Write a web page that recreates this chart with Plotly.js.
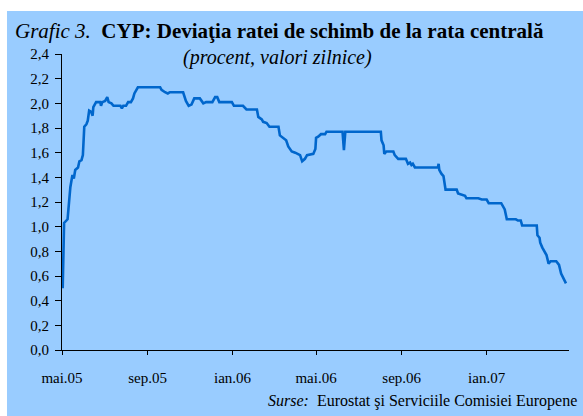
<!DOCTYPE html>
<html>
<head>
<meta charset="utf-8">
<script src="https://cdn.plot.ly/plotly-3.0.1.min.js"></script>
<style>html,body{margin:0;padding:0;background:#fff;}#chart{width:583px;height:416px;}</style>
</head>
<body>
<div id="chart"></div>
<script>
var dates = [
 '2005-05-02','2005-05-04','2005-05-09','2005-05-13','2005-05-16','2005-05-18','2005-05-20','2005-05-24','2005-05-26','2005-05-29',
 '2005-05-31','2005-06-01','2005-06-02','2005-06-05','2005-06-07','2005-06-09','2005-06-12','2005-06-14','2005-06-15','2005-06-19',
 '2005-06-25','2005-06-26','2005-06-28','2005-07-02','2005-07-05','2005-07-07','2005-07-11','2005-07-14','2005-07-24','2005-07-26',
 '2005-07-28','2005-08-01','2005-08-04','2005-08-08','2005-08-11','2005-08-13','2005-08-16','2005-08-18','2005-09-19','2005-09-21',
 '2005-09-26','2005-09-30','2005-10-03','2005-10-22','2005-10-26','2005-10-30','2005-11-03','2005-11-07','2005-11-15','2005-11-20',
 '2005-11-24','2005-12-03','2005-12-07','2005-12-10','2005-12-13','2005-12-31','2006-01-03','2006-01-16','2006-01-21','2006-02-05',
 '2006-02-07','2006-02-12','2006-02-14','2006-02-19','2006-02-23','2006-03-08','2006-03-10','2006-03-15','2006-03-19','2006-03-22',
 '2006-03-27','2006-04-01','2006-04-06','2006-04-08','2006-04-11','2006-04-15','2006-04-18','2006-04-27','2006-04-30','2006-05-01',
 '2006-05-04','2006-05-08','2006-05-14','2006-05-16','2006-06-08','2006-06-10','2006-06-12','2006-08-02','2006-08-03','2006-08-06',
 '2006-08-07','2006-08-10','2006-08-20','2006-08-22','2006-08-27','2006-09-07','2006-09-10','2006-09-13','2006-09-15','2006-09-17',
 '2006-09-20','2006-10-23','2006-10-24','2006-10-25','2006-10-28','2006-10-31','2006-11-03','2006-11-19','2006-11-21','2006-11-26',
 '2006-12-01','2006-12-03','2006-12-20','2006-12-25','2007-01-01','2007-01-04','2007-01-22','2007-01-27','2007-01-30','2007-02-12',
 '2007-02-15','2007-02-19','2007-02-21','2007-03-14','2007-03-15','2007-03-18','2007-03-19','2007-03-22','2007-03-25','2007-03-28',
 '2007-03-31','2007-04-03','2007-04-11','2007-04-15','2007-04-18','2007-04-21','2007-04-25'
];
var deviation = [
 0.50,1.03,1.06,1.32,1.42,1.39,1.46,1.48,1.53,1.54,
 1.58,1.74,1.81,1.83,1.86,1.94,1.93,1.90,1.97,2.01,
 2.01,1.98,2.01,2.02,2.05,2.01,2.00,1.98,1.98,1.96,
 1.98,1.98,2.01,2.01,2.04,2.08,2.11,2.13,2.13,2.11,
 2.09,2.08,2.09,2.09,2.02,1.98,1.99,2.04,2.04,2.00,
 2.01,2.01,2.05,2.05,2.01,2.01,1.98,1.98,1.95,1.95,
 1.89,1.87,1.85,1.84,1.81,1.81,1.74,1.72,1.70,1.65,
 1.61,1.60,1.59,1.58,1.53,1.55,1.58,1.59,1.63,1.72,
 1.73,1.75,1.75,1.77,1.77,1.62,1.77,1.77,1.70,1.66,
 1.59,1.61,1.61,1.58,1.55,1.55,1.51,1.52,1.50,1.51,
 1.48,1.48,1.51,1.46,1.43,1.41,1.30,1.30,1.27,1.26,
 1.25,1.23,1.23,1.22,1.22,1.19,1.19,1.14,1.06,1.06,
 1.05,1.05,1.01,1.01,0.93,0.91,0.87,0.83,0.80,0.77,
 0.70,0.72,0.72,0.69,0.62,0.58,0.54
];
var xTickVals = ['2005-05-01','2005-09-01','2006-01-01','2006-05-01','2006-09-01','2007-01-01'];
var xTickText = ['mai.05','sep.05','ian.06','mai.06','sep.06','ian.07'];
var yTickVals = [0,0.2,0.4,0.6,0.8,1.0,1.2,1.4,1.6,1.8,2.0,2.2,2.4];
var yTickText = ['0,0','0,2','0,4','0,6','0,8','1,0','1,2','1,4','1,6','1,8','2,0','2,2','2,4'];

var font = 'Liberation Serif, Times New Roman, serif';
var trace = {
  x: dates, y: deviation, type: 'scatter', mode: 'lines',
  line: {color: '#0066CC', width: 2.6, shape: 'linear'},
  hoverinfo: 'skip'
};
var layout = {
  width: 583, height: 416,
  margin: {l: 62, r: 14, t: 54, b: 66, pad: 0},
  paper_bgcolor: '#ffffff',
  plot_bgcolor: 'rgba(0,0,0,0)',
  showlegend: false,
  font: {family: font, size: 15, color: '#000'},
  xaxis: {
    type: 'date', range: ['2005-05-01', '2007-04-29 08:00'],
    tickmode: 'array', tickvals: xTickVals, ticktext: xTickText,
    ticks: 'outside', ticklen: 4, tickwidth: 1, tickcolor: '#000',
    showline: true, linecolor: '#000', linewidth: 1,
    showgrid: false, zeroline: false, ticklabelstandoff: 10,
    tickfont: {family: font, size: 15, color: '#000'}
  },
  yaxis: {
    range: [0, 2.4], tickmode: 'array', tickvals: yTickVals, ticktext: yTickText,
    ticks: 'outside', ticklen: 6, tickwidth: 1, tickcolor: '#000',
    showline: true, linecolor: '#000', linewidth: 1,
    showgrid: false, zeroline: false, ticklabelstandoff: 3,
    tickfont: {family: font, size: 15, color: '#000'}
  },
  shapes: [{
    type: 'rect', xref: 'paper', yref: 'paper', layer: 'below',
    x0: -0.1085, x1: 1.06, y0: -0.3, y1: 1.1453,
    fillcolor: '#99CCFF', line: {width: 0}
  }],
  annotations: [
    {xref: 'paper', yref: 'paper', x: -0.0966, y: 1.0777, xanchor: 'left', yanchor: 'middle', showarrow: false,
     text: '<i>Grafic 3.</i>  <b>CYP: Deviaţia ratei de schimb de la rata centrală</b>',
     font: {family: font, size: 21, color: '#000'}},
    {xref: 'paper', yref: 'paper', x: 0.426, y: 0.9865, xanchor: 'center', yanchor: 'middle', showarrow: false,
     text: '<i>(procent, valori zilnice)</i>',
     font: {family: font, size: 20, color: '#000'}},
    {xref: 'paper', yref: 'paper', x: 1.0197, y: -0.1723, xanchor: 'right', yanchor: 'middle', showarrow: false,
     text: '<i>Surse:</i>  Eurostat şi Serviciile Comisiei Europene',
     font: {family: font, size: 16, color: '#000'}}
  ]
};
Plotly.newPlot('chart', [trace], layout, {displayModeBar: false, staticPlot: true});
</script>
</body>
</html>
